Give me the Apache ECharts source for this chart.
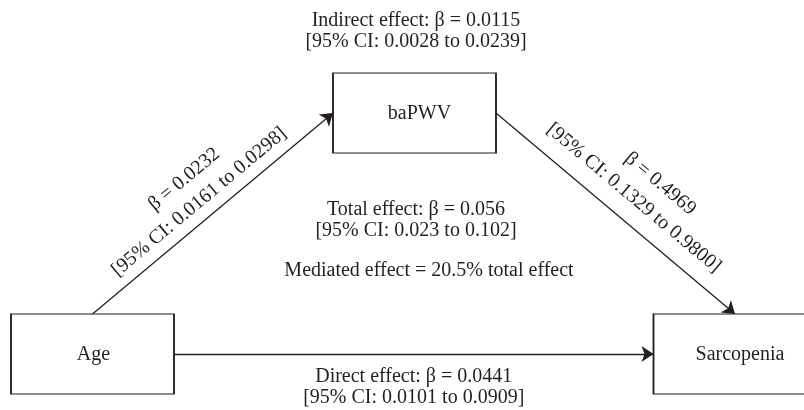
<!DOCTYPE html>
<html>
<head>
<meta charset="utf-8">
<script src="https://cdn.jsdelivr.net/npm/echarts@6/dist/echarts.min.js"></script>
<style>html,body{margin:0;padding:0;background:#fff}#c{width:804px;height:410px}</style>
</head>
<body>
<div id="c"></div>
<script>
// ---- data ----
const nodeNames = ['Age', 'baPWV', 'Sarcopenia'];
const pathFrom = [0, 1, 0];
const pathTo = [1, 2, 2];
const pathBeta = [0.0232, 0.4969, 0.0441];
const pathCiLow = [0.0161, 0.1329, 0.0101];
const pathCiHigh = [0.0298, 0.9800, 0.0909];
const indirectBeta = 0.0115, indirectCi = [0.0028, 0.0239];
const totalBeta = 0.056, totalCi = [0.023, 0.102];
const mediatedPct = 20.5;

// ---- layout (pixel-like data space) ----
const nodeCenter = [[92.5, 354], [414.5, 113], [735, 354]];
const nodeLabelShift = [1, 5, 5];
const boxW = 163, boxH = 80;
const FONT = '"Liberation Serif", "Times New Roman", serif';
const INK = '#231f20';
const FS = 20, LH = 21;

function f4(v) { return v.toFixed(4); }
function f3(v) { return v.toFixed(3); }

function anchor(i, side) {
  const [x, y] = nodeCenter[i];
  if (side === 'top') return [x, y - boxH / 2];
  if (side === 'left') return [x - boxW / 2, y];
  if (side === 'right') return [x + boxW / 2, y];
  return [x, y + boxH / 2];
}
const pathSides = [['top', 'left'], ['right', 'top'], ['right', 'left']];
const pathLabelPos = ['middle', 'middle', 'insideMiddleBottom'];
const pathLabelDist = [4, 9.5, 12.5];
const pathRowH = [27, 28, 21];
const pathRowPad = [[[0, 0, 0, 0], [0, 6, 0, 0]], [[0, 0, 0, 30], [0, 0, 0, 8]], [[0, 0, 0, 0], [0, 0, 0, 0]]];

const linesData = pathFrom.map((a, k) => {
  const b = pathTo[k];
  const s = anchor(a, pathSides[k][0]);
  const e = anchor(b, pathSides[k][1]);
  const prefix = k === 2 ? 'Direct effect: ' : '';
  return {
    coords: [s, e],
    label: {
      position: pathLabelPos[k],
      distance: pathLabelDist[k],
      formatter: '{r1|' + prefix + 'β = ' + f4(pathBeta[k]) + '}\n{r2|[95% CI: ' + f4(pathCiLow[k]) + ' to ' + f4(pathCiHigh[k]) + ']}',
      rich: {
        r1: { fontFamily: FONT, fontSize: FS, lineHeight: pathRowH[k], color: INK, padding: pathRowPad[k][0] },
        r2: { fontFamily: FONT, fontSize: FS, lineHeight: pathRowH[k], color: INK, padding: pathRowPad[k][1] }
      }
    }
  };
});

const notes = [
  { value: [416, 31], text: 'Indirect effect: β = ' + f4(indirectBeta) + '\n[95% CI: ' + f4(indirectCi[0]) + ' to ' + f4(indirectCi[1]) + ']' },
  { value: [416, 220], text: 'Total effect: β = ' + f3(totalBeta) + '\n[95% CI: ' + f3(totalCi[0]) + ' to ' + f3(totalCi[1]) + ']' },
  { value: [429, 271], text: 'Mediated effect = ' + mediatedPct.toFixed(1) + '% total effect' }
];

const chart = echarts.init(document.getElementById('c'), null, { renderer: 'canvas' });
chart.setOption({
  animation: false,
  backgroundColor: '#fff',
  grid: { left: 0, right: 0, top: 0, bottom: 0 },
  xAxis: { type: 'value', min: 0, max: 804, show: false },
  yAxis: { type: 'value', min: 0, max: 410, inverse: true, show: false },
  series: [
    {
      type: 'lines',
      coordinateSystem: 'cartesian2d',
      symbol: ['none', 'arrow'],
      symbolSize: 12,
      lineStyle: { color: INK, width: 1.3, opacity: 1, curveness: 0 },
      label: { show: true, fontFamily: FONT, fontSize: FS, color: INK },
      data: linesData,
      z: 2
    },
    {
      type: 'scatter',
      symbol: 'rect',
      symbolSize: [boxW, boxH],
      clip: false,
      itemStyle: { color: '#fff', borderColor: INK, borderWidth: 1.3, opacity: 1 },
      label: { show: true, position: 'inside', formatter: p => p.name, fontFamily: FONT, fontSize: FS, color: INK },
      data: nodeNames.map((n, i) => ({ name: n, value: nodeCenter[i], label: { offset: [nodeLabelShift[i], 1] } })),
      z: 3
    },
    {
      type: 'scatter',
      symbol: 'rect',
      symbolSize: 1,
      itemStyle: { color: '#ffffff', opacity: 1 },
      label: { show: true, position: 'inside', formatter: p => p.data.text, fontFamily: FONT, fontSize: FS, lineHeight: LH, color: INK, align: 'center', verticalAlign: 'middle' },
      data: notes,
      z: 1
    }
  ]
});
</script>
</body>
</html>
